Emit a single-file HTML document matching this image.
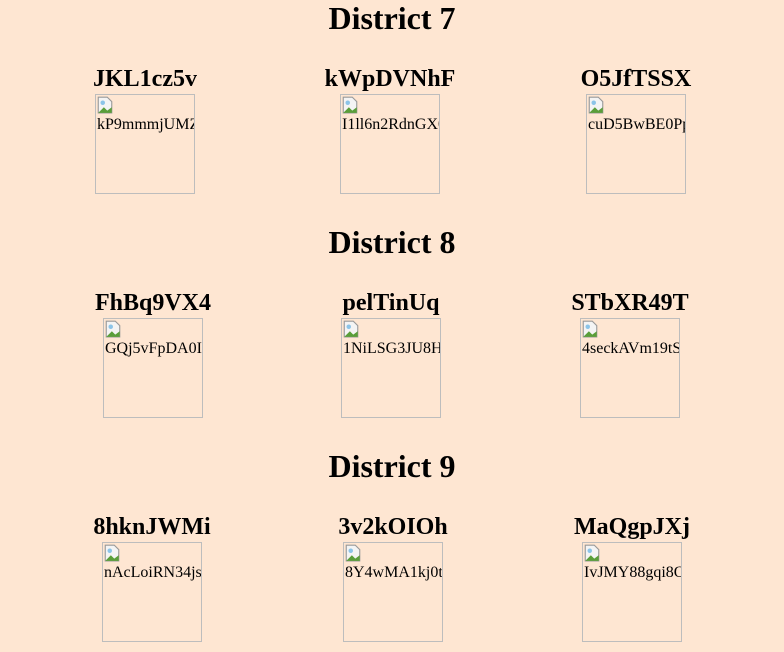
<!DOCTYPE html>
<html><head><style>
body{margin:0;width:784px;height:652px;background:#fee6d2;font-family:"Liberation Serif",serif;position:relative;overflow:hidden}
.t{position:absolute;left:0;width:784px;text-align:center;font-weight:bold;font-size:32px;line-height:32px}
.h{position:absolute;width:240px;text-align:center;font-weight:bold;font-size:24px;line-height:24px}
.b{position:absolute;width:98px;height:98px;border:1px solid #bdbdbd;overflow:hidden;font-size:16px;line-height:18px;color:#000}
.i{display:block;width:16px;height:18px;margin:1px 0 2px 1px;position:relative}
.x{white-space:nowrap;padding-left:1px}
</style></head><body>
<div class="t" style="top:2px">District 7</div>
<div class="t" style="top:226px">District 8</div>
<div class="t" style="top:450px">District 9</div>

<div class="h" style="left:25px;top:67px">JKL1cz5v</div>
<div class="h" style="left:270px;top:67px">kWpDVNhF</div>
<div class="h" style="left:516px;top:67px">O5JfTSSX</div>
<div class="b" style="left:95px;top:94px"><svg class="i" viewBox="0 0 14 16"><path d="M1 1h8l4 4v10H1z" fill="#f4f4f4" stroke="#999"/><path d="M1 15l5-5 3 3 4-3v5z" fill="#5a9e3a"/><circle cx="5" cy="6" r="2" fill="#8cc4e8"/></svg><div class="x">kP9mmmjUMZ</div></div>
<div class="b" style="left:340px;top:94px"><svg class="i" viewBox="0 0 14 16"><path d="M1 1h8l4 4v10H1z" fill="#f4f4f4" stroke="#999"/><path d="M1 15l5-5 3 3 4-3v5z" fill="#5a9e3a"/><circle cx="5" cy="6" r="2" fill="#8cc4e8"/></svg><div class="x">I1ll6n2RdnGX0</div></div>
<div class="b" style="left:586px;top:94px"><svg class="i" viewBox="0 0 14 16"><path d="M1 1h8l4 4v10H1z" fill="#f4f4f4" stroke="#999"/><path d="M1 15l5-5 3 3 4-3v5z" fill="#5a9e3a"/><circle cx="5" cy="6" r="2" fill="#8cc4e8"/></svg><div class="x">cuD5BwBE0Pp</div></div>

<div class="h" style="left:33px;top:291px">FhBq9VX4</div>
<div class="h" style="left:271px;top:291px">pelTinUq</div>
<div class="h" style="left:510px;top:291px">STbXR49T</div>
<div class="b" style="left:103px;top:318px"><svg class="i" viewBox="0 0 14 16"><path d="M1 1h8l4 4v10H1z" fill="#f4f4f4" stroke="#999"/><path d="M1 15l5-5 3 3 4-3v5z" fill="#5a9e3a"/><circle cx="5" cy="6" r="2" fill="#8cc4e8"/></svg><div class="x">GQj5vFpDA0I</div></div>
<div class="b" style="left:341px;top:318px"><svg class="i" viewBox="0 0 14 16"><path d="M1 1h8l4 4v10H1z" fill="#f4f4f4" stroke="#999"/><path d="M1 15l5-5 3 3 4-3v5z" fill="#5a9e3a"/><circle cx="5" cy="6" r="2" fill="#8cc4e8"/></svg><div class="x">1NiLSG3JU8H</div></div>
<div class="b" style="left:580px;top:318px"><svg class="i" viewBox="0 0 14 16"><path d="M1 1h8l4 4v10H1z" fill="#f4f4f4" stroke="#999"/><path d="M1 15l5-5 3 3 4-3v5z" fill="#5a9e3a"/><circle cx="5" cy="6" r="2" fill="#8cc4e8"/></svg><div class="x">4seckAVm19tS</div></div>

<div class="h" style="left:32px;top:515px">8hknJWMi</div>
<div class="h" style="left:273px;top:515px">3v2kOIOh</div>
<div class="h" style="left:512px;top:515px">MaQgpJXj</div>
<div class="b" style="left:102px;top:542px"><svg class="i" viewBox="0 0 14 16"><path d="M1 1h8l4 4v10H1z" fill="#f4f4f4" stroke="#999"/><path d="M1 15l5-5 3 3 4-3v5z" fill="#5a9e3a"/><circle cx="5" cy="6" r="2" fill="#8cc4e8"/></svg><div class="x">nAcLoiRN34js</div></div>
<div class="b" style="left:343px;top:542px"><svg class="i" viewBox="0 0 14 16"><path d="M1 1h8l4 4v10H1z" fill="#f4f4f4" stroke="#999"/><path d="M1 15l5-5 3 3 4-3v5z" fill="#5a9e3a"/><circle cx="5" cy="6" r="2" fill="#8cc4e8"/></svg><div class="x">8Y4wMA1kj0t</div></div>
<div class="b" style="left:582px;top:542px"><svg class="i" viewBox="0 0 14 16"><path d="M1 1h8l4 4v10H1z" fill="#f4f4f4" stroke="#999"/><path d="M1 15l5-5 3 3 4-3v5z" fill="#5a9e3a"/><circle cx="5" cy="6" r="2" fill="#8cc4e8"/></svg><div class="x">IvJMY88gqi8O</div></div>
</body></html>
